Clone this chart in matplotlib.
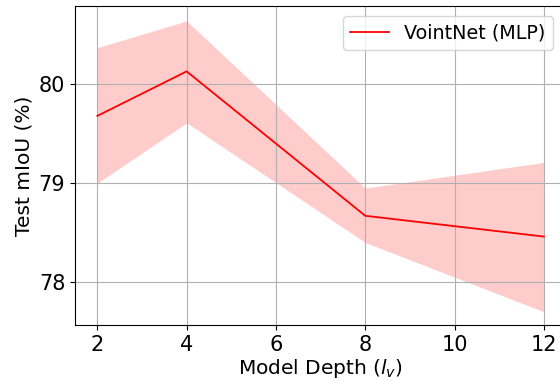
import matplotlib

matplotlib.use("Agg")
import matplotlib.pyplot as plt

# model depth vs test mIoU (mean and band)
depths = [2, 4, 8, 12]
miou_mean = [79.68, 80.13, 78.67, 78.46]
miou_upper = [80.37, 80.64, 78.95, 79.21]
miou_lower = [79.00, 79.61, 78.40, 77.70]
series_label = "VointNet (MLP)"

fig = plt.figure(figsize=(5.6, 3.81), dpi=100)
ax = fig.add_axes([0.134, 0.147, 0.877, 0.837])

ax.plot(depths, miou_mean, color="red", linewidth=1.3, label=series_label)
ax.fill_between(depths, miou_lower, miou_upper, color="red", alpha=0.2, linewidth=0)

ax.set_xlim(1.5, 12.5)
ax.set_ylim(77.566, 80.79)
ax.set_xticks([2, 4, 6, 8, 10, 12])
ax.set_yticks([78, 79, 80])
ax.tick_params(labelsize=15)
ax.set_xlabel(r"Model Depth ($l_v$)", fontsize=14.5, labelpad=2)
ax.set_ylabel("Test mIoU (%)", fontsize=14.5)
ax.grid(True)
ax.legend(loc="upper right", fontsize=13.8, bbox_to_anchor=(0.993, 1.0))

fig.savefig("out.png", dpi=100)
